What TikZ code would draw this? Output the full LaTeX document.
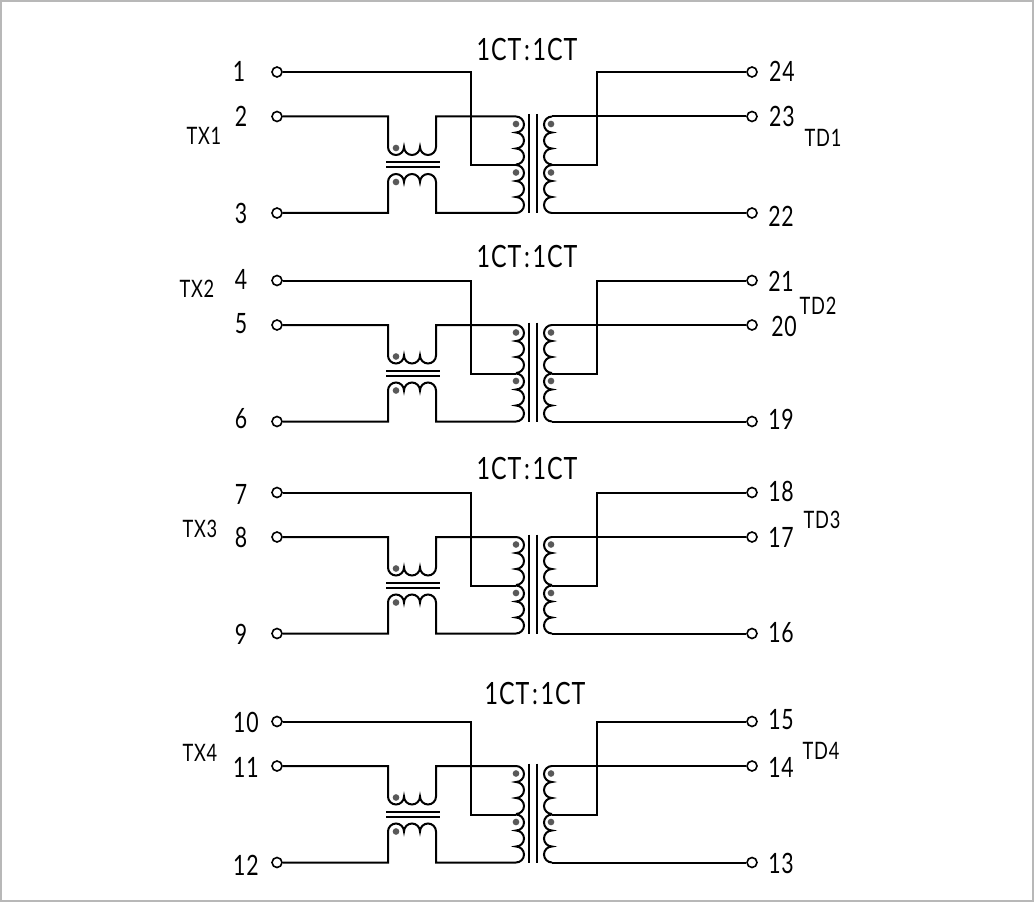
\documentclass[tikz,border=0pt]{standalone}
\usepackage{fontspec}
\setmainfont[FakeStretch=0.76,LetterSpace=3]{Lato}
\usetikzlibrary{positioning}

\begin{document}
\begin{tikzpicture}
    [
        x=0.75pt, y=0.75pt, line width=1.5pt, node distance=28.5pt and 22pt, on grid,
        pin_node/.style={circle, draw=black, fill=white, line width=1.2pt, inner sep=0pt, minimum size=7.5pt},
        num_node/.style={font=\fontsize{21}{21}\selectfont, inner sep=0pt},
        name_node/.style={font=\fontsize{18}{18}\selectfont, inner sep=0pt},
        title_node/.style={font=\fontsize{23}{23}\selectfont, inner sep=0pt},
        coil_right/.style={insert path={arc[start angle=90, end angle=-90, radius=6pt] arc[start angle=90, end angle=-90, radius=6pt] arc[start angle=90, end angle=-90, radius=6pt]}},
        coil_left/.style={insert path={arc[start angle=90, end angle=270, radius=6pt] arc[start angle=90, end angle=270, radius=6pt] arc[start angle=90, end angle=270, radius=6pt]}},
        coil_down/.style={insert path={arc[start angle=180, end angle=360, radius=6pt] arc[start angle=180, end angle=360, radius=6pt] arc[start angle=180, end angle=360, radius=6pt]}},
        coil_up/.style={insert path={arc[start angle=180, end angle=0, radius=6pt] arc[start angle=180, end angle=0, radius=6pt] arc[start angle=180, end angle=0, radius=6pt]}},
    ]
        \useasboundingbox (0,0) rectangle (1034,-902);
        \draw[line width=1.5pt, color=black!28] (1,-1) rectangle (1033,-901);
        % one block per transformer pair
        \foreach \b/\yo/\pa/\pb/\pc/\pd/\pe/\pf in {1/0/1/2/3/24/23/22, 2/-208.5/4/5/6/21/20/19, 3/-420.5/7/8/9/18/17/16, 4/-649.5/10/11/12/15/14/13}
        {
            \begin{scope}[shift={(0,\yo)}]
                \node[pin_node] (pin\pa) at (277,-72) {} ;
                \node[pin_node] (pin\pb) at (277,-116.5) {} ;
                \node[pin_node] (pin\pc) at (277,-213) {} ;
                \node[pin_node] (pin\pd) at (752,-72) {} ;
                \node[pin_node] (pin\pe) at (752,-116.5) {} ;
                \node[pin_node] (pin\pf) at (752,-213) {} ;
                \coordinate (jogL\b) at (471,-165) ;
                \coordinate (jogR\b) at (597,-165) ;
                \coordinate (topL\b) at (516,-116.5) ;
                \coordinate (tapL\b) at (516,-165) ;
                \coordinate (botL\b) at (516,-213) ;
                \coordinate (topR\b) at (552,-116.5) ;
                \coordinate (tapR\b) at (552,-165) ;
                \coordinate (botR\b) at (552,-213) ;
                \coordinate (chkU\b) at (388,-147) ;
                \coordinate (chkD\b) at (388,-182) ;
                \draw (pin\pa) -| (jogL\b) -- (tapL\b) ;
                \draw (pin\pb) -| (chkU\b) [coil_down] |- (topL\b) ;
                \draw (pin\pc) -| (chkD\b) [coil_up] |- (botL\b) ;
                \draw (pin\pd) -| (jogR\b) -- (tapR\b) ;
                \draw (pin\pe) -- (topR\b) ;
                \draw (pin\pf) -- (botR\b) ;
                \draw (topL\b) [coil_right] ;
                \draw (tapL\b) [coil_right] ;
                \draw (topR\b) [coil_left] ;
                \draw (tapR\b) [coil_left] ;
                \draw (529,-114) -- (529,-213) ;
                \draw (537,-114) -- (537,-213) ;
                \draw (386,-162.5) -- (440,-162.5) ;
                \draw (386,-167.5) -- (440,-167.5) ;
                \foreach \dx/\dy in {516/-124, 551/-124, 516/-172.5, 551/-172.5, 396/-148, 396/-182}
                    \fill[color=black!65] (\dx,\dy) circle (2.5pt) ;
            \end{scope}
        }
        % pin numbers
        \foreach \n/\nx/\ny in {1/239/-71, 2/241/-116, 3/241/-213, 4/241/-279, 5/241/-324, 6/241/-419, 7/241/-494, 8/241/-537, 9/241/-634, 10/246/-722, 11/246/-767, 12/246/-865, 24/782/-71, 23/782/-116, 22/781/-216, 21/781/-281, 20/784/-326, 19/781/-419, 18/781/-491, 17/781/-537, 16/781/-633, 15/781/-720, 14/781/-767, 13/781/-863}
            \node[num_node] (num\n) at (\nx,\ny) {\n} ;
        \node[name_node] (tx1) at (204,-136) {TX1} ;
        \node[name_node] (tx2) at (197,-289) {TX2} ;
        \node[name_node] (tx3) at (200,-529) {TX3} ;
        \node[name_node] (tx4) at (200,-753) {TX4} ;
        \node[name_node] (td1) at (823,-138) {TD1} ;
        \node[name_node] (td2) at (818,-306) {TD2} ;
        \node[name_node] (td3) at (822,-520) {TD3} ;
        \node[name_node] (td4) at (821,-751) {TD4} ;
        \node[title_node] (ratio1) at (527,-50) {1CT\kern2pt:\kern2pt 1CT} ;
        \node[title_node] (ratio2) at (527,-257) {1CT\kern2pt:\kern2pt 1CT} ;
        \node[title_node] (ratio3) at (527,-469) {1CT\kern2pt:\kern2pt 1CT} ;
        \node[title_node] (ratio4) at (535,-694) {1CT\kern2pt:\kern2pt 1CT} ;
    \end{tikzpicture}
\end{document}
